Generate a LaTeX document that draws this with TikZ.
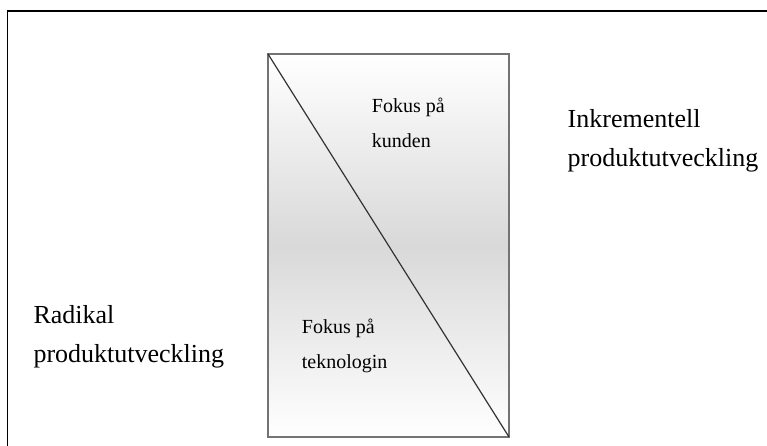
\documentclass[tikz,border=0pt]{standalone}
\usepackage{fontspec}
\setmainfont{Liberation Serif}
\begin{document}
\begin{tikzpicture}[x=1pt,y=-1pt,
  biglabel/.style={anchor=base west,inner sep=0pt,font=\fontsize{26}{30}\selectfont},
  smalllabel/.style={anchor=base west,inner sep=0pt,font=\fontsize{20}{24}\selectfont},
  frameline/.style={line width=1.3pt,black},
  boxedge/.style={line width=1.5pt,draw=black!55}]
  \useasboundingbox (0,0) rectangle (767,446);
  % outer frame (only top and left edges fall inside the page)
  \draw[frameline] (7.3,450) -- (7.3,11) -- (780,11);
  % box corners
  \coordinate (tl) at (268,54);
  \coordinate (br) at (509,437);
  \coordinate (ml) at (268,245.5);
  \coordinate (mr) at (509,245.5);
  % vertical gradient: white -> grey -> white
  \shade[top color=white,bottom color=black!15] (tl) rectangle (mr);
  \shade[top color=black!15,bottom color=white] (ml) rectangle (br);
  \draw[boxedge] (tl) rectangle (br);
  \draw[line width=1.2pt,black!80] (tl) -- (br);
  % labels
  \node[smalllabel] (k1) at (371.7,113) {Fokus på};
  \node[smalllabel] (k2) at (371.7,148) {kunden};
  \node[smalllabel] (t1) at (301.7,333) {Fokus på};
  \node[smalllabel] (t2) at (301.7,368) {teknologin};
  \node[biglabel] (i1) at (567.5,128) {Inkrementell};
  \node[biglabel] (i2) at (567.5,167) {produktutveckling};
  \node[biglabel] (r1) at (33.3,323) {Radikal};
  \node[biglabel] (r2) at (33.3,362) {produktutveckling};
\end{tikzpicture}
\end{document}
